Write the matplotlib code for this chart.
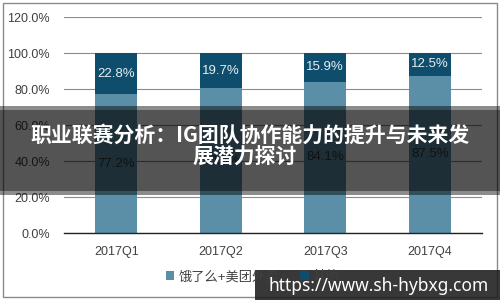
import numpy as np
import matplotlib
matplotlib.use('Agg')
from matplotlib import pyplot as plt
from matplotlib.patches import Rectangle

quarters = ['2017Q1', '2017Q2', '2017Q3', '2017Q4']
share_main = [77.2, 80.3, 84.1, 87.5]
share_other = [22.8, 19.7, 15.9, 12.5]
series_names = ['饿了么+美团外卖', '其他']
title_lines = ['职业联赛分析：IG团队协作能力的提升与未来发', '展潜力探讨']
watermark = 'https://www.sh-hybxg.com'

plt.rcParams['font.family'] = ['Liberation Sans', 'Noto Sans CJK SC', 'DejaVu Sans']

C_MAIN = '#5a8fa7'
C_OTHER = '#0e4e6c'
TXT = '#404040'


def px_fig(x=None, y=None):
    # pixel coords (top-left origin) -> figure fraction
    if x is not None:
        return x / 500.0
    return 1 - y / 300.0


fig = plt.figure(figsize=(5, 3), dpi=100)
ax = fig.add_axes([px_fig(x=64), px_fig(y=233), 418 / 500.0, 216 / 300.0])

x = np.arange(len(quarters))
w = 0.4
b1 = ax.bar(x, share_main, w, color=C_MAIN, zorder=2, label=series_names[0])
b2 = ax.bar(x, share_other, w, bottom=share_main, color=C_OTHER, zorder=2, label=series_names[1])

for i in range(len(quarters)):
    ax.text(x[i], share_main[i] / 2, '{:.1f}%'.format(share_main[i]), ha='center', va='center',
            fontsize=9.5, color='#333333', zorder=3)
    ax.text(x[i], share_main[i] + share_other[i] / 2, '{:.1f}%'.format(share_other[i]), ha='center',
            va='center', fontsize=9.5, color='#e6eef2', zorder=3)

ax.set_xlim(-0.5, len(quarters) - 0.5)
ax.set_ylim(0, 120)
ax.set_yticks(np.arange(0, 121, 20))
ax.set_yticklabels(['{:.1f}%'.format(v) for v in np.arange(0, 121, 20)])
ax.set_xticks(x)
ax.set_xticklabels(quarters)
ax.tick_params(axis='both', length=0, labelsize=9, colors=TXT)
ax.tick_params(axis='y', pad=10)
ax.tick_params(axis='x', pad=9)
ax.grid(axis='y', color='#8c8c8c', linewidth=0.8, zorder=0)
for s in ['top', 'right', 'left']:
    ax.spines[s].set_visible(False)
ax.spines['bottom'].set_color('#222222')
ax.spines['bottom'].set_linewidth(1.0)

fig.legend(handles=[b1, b2], labels=series_names, loc='center', bbox_to_anchor=(0.505, px_fig(y=277)),
           ncol=2, frameon=False, fontsize=9.5, handlelength=0.65, handleheight=0.65, handletextpad=0.3,
           columnspacing=1.6, labelcolor=TXT)

# outer frame
fig.add_artist(Rectangle((px_fig(x=3), px_fig(y=297)), 494 / 500.0, 294 / 300.0, transform=fig.transFigure,
                         fill=False, edgecolor='#8a8a8a', linewidth=1.0, zorder=4))

# banner overlay
fig.add_artist(Rectangle((0, px_fig(y=195)), 1, 89 / 300.0, transform=fig.transFigure,
                         facecolor='black', edgecolor='none', alpha=0.45, zorder=5))
fig.add_artist(Rectangle((0, px_fig(y=191)), 1, 81 / 300.0, transform=fig.transFigure,
                         facecolor='black', edgecolor='none', alpha=0.4, zorder=5))
fig.text(0.5, px_fig(y=135), title_lines[0], ha='center', va='center', color='white', fontsize=15,
         fontweight='bold', family=['Noto Sans CJK SC', 'DejaVu Sans'], zorder=6)
fig.text(0.49, px_fig(y=157), title_lines[1], ha='center', va='center', color='white', fontsize=15,
         fontweight='bold', family=['Noto Sans CJK SC', 'DejaVu Sans'], zorder=6)

# watermark
fig.add_artist(Rectangle((px_fig(x=255), 0), 245 / 500.0, 30 / 300.0, transform=fig.transFigure,
                         facecolor='#1c1c1c', edgecolor='none', alpha=0.88, zorder=5))
fig.text(px_fig(x=379), px_fig(y=286), watermark, ha='center', va='center', color='white', fontsize=12.5,
         fontweight='bold', family=['Noto Sans', 'DejaVu Sans'], zorder=6)

plt.savefig('out.png', dpi=100)
